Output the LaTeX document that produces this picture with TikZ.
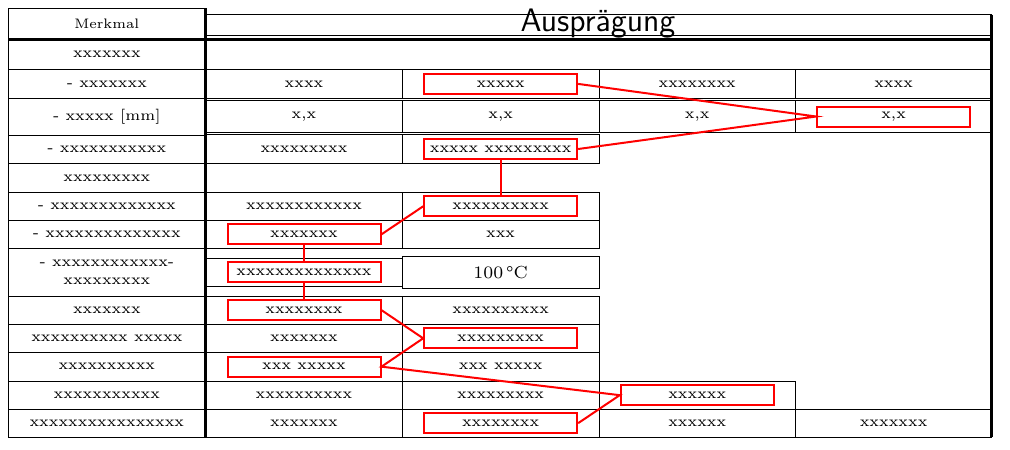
\documentclass[tikz,border=0pt]{standalone}
\tikzset{
  pick/.style={draw=red,line width=0.8pt,minimum width=61.2pt,minimum height=8pt,inner sep=0pt},
  link/.style={draw=red,line width=0.8pt},
  heavy/.style={line width=1.3pt}
}
\begin{document}
\begin{tikzpicture}[x=0.4pt,y=-0.4pt,every node/.style={font=\fontsize{6}{7}\selectfont}]
  \useasboundingbox (0,0) rectangle (1010,449);
  % kopf
  \draw (8,8) rectangle (205.7,40) node[midway,font=\fontsize{5.5}{6}\selectfont] (merkmal) {Merkmal};
  \draw (205.7,14.7) rectangle (991.7,35);
  \node[anchor=base,font=\sffamily\fontsize{13}{15}\selectfont] (auspr) at (598,31.5) {Ausprägung};
  % merkmale
  \foreach \ya/\yb/\txt [count=\i] in {40/69.5/xxxxxxx,69.5/98.3/- xxxxxxx,
      98.3/135.3/- xxxxx [mm],135.3/163.3/- xxxxxxxxxxx,163.3/192.3/xxxxxxxxx,
      192.3/220.3/- xxxxxxxxxxxxx,220.3/248.3/- xxxxxxxxxxxxxx,
      248.3/296/{- xxxxxxxxxxxx-\\xxxxxxxxx},296/324.3/xxxxxxx,
      324.3/352.3/xxxxxxxxxx xxxxx,352.3/381/xxxxxxxxxx,381/409.3/xxxxxxxxxxx,
      409.3/437/xxxxxxxxxxxxxxxx}
    \draw (8,\ya) rectangle (205.7,\yb) node[midway,align=center] (m\i) {\txt};
  % zeile 2
  \draw (205.7,69.5) rectangle (402.3,98.3) node[midway] (a2) {xxxx};
  \draw (402.3,69.5) rectangle (599,98.3) node[midway,pick] (b2) {xxxxx};
  \draw (599,69.5) rectangle (795.5,98.3) node[midway] (c2) {xxxxxxxx};
  \draw (795.5,69.5) rectangle (991.7,98.3) node[midway] (d2) {xxxx};
  % zeile 3
  \draw (205.7,100.7) rectangle (402.3,132.3) node[midway] (a3) {x,x};
  \draw (402.3,100.7) rectangle (599,132.3) node[midway] (b3) {x,x};
  \draw (599,100.7) rectangle (795.5,132.3) node[midway] (c3) {x,x};
  \draw (795.5,100.7) rectangle (991.7,132.3) node[midway,pick] (d3) {x,x};
  % zeile 4
  \draw (205.7,134.7) rectangle (402.3,163.3) node[midway] (a4) {xxxxxxxxx};
  \draw (402.3,134.7) rectangle (599,163.3) node[midway,pick] (b4) {xxxxx xxxxxxxxx};
  % zeile 6
  \draw (205.7,192.3) rectangle (402.3,220.3) node[midway] (a6) {xxxxxxxxxxxx};
  \draw (402.3,192.3) rectangle (599,220.3) node[midway,pick] (b6) {xxxxxxxxxx};
  % zeile 7
  \draw (205.7,220.3) rectangle (402.3,248.3) node[midway,pick] (a7) {xxxxxxx};
  \draw (402.3,220.3) rectangle (599,248.3) node[midway] (b7) {xxx};
  % zeile 8
  \draw (205.7,258.3) rectangle (402.3,286) node[midway,pick] (a8) {xxxxxxxxxxxxxx};
  \draw (402.3,256.7) rectangle (599,288) node[midway,font=\scriptsize] (b8) {100\,\textdegree C};
  % zeile 9
  \draw (205.7,296) rectangle (402.3,324.3) node[midway,pick] (a9) {xxxxxxxx};
  \draw (402.3,296) rectangle (599,324.3) node[midway] (b9) {xxxxxxxxxx};
  % zeile 10
  \draw (205.7,324.3) rectangle (402.3,352.3) node[midway] (a10) {xxxxxxx};
  \draw (402.3,324.3) rectangle (599,352.3) node[midway,pick] (b10) {xxxxxxxxx};
  % zeile 11
  \draw (205.7,352.3) rectangle (402.3,381) node[midway,pick] (a11) {xxx xxxxx};
  \draw (402.3,352.3) rectangle (599,381) node[midway] (b11) {xxx xxxxx};
  % zeile 12
  \draw (205.7,381) rectangle (402.3,409.3) node[midway] (a12) {xxxxxxxxxx};
  \draw (402.3,381) rectangle (599,409.3) node[midway] (b12) {xxxxxxxxx};
  \draw (599,381) rectangle (795.5,409.3) node[midway,pick] (c12) {xxxxxx};
  % zeile 13
  \draw (205.7,409.3) rectangle (402.3,437) node[midway] (a13) {xxxxxxx};
  \draw (402.3,409.3) rectangle (599,437) node[midway,pick] (b13) {xxxxxxxx};
  \draw (599,409.3) rectangle (795.5,437) node[midway] (c13) {xxxxxx};
  \draw (795.5,409.3) rectangle (991.7,437) node[midway] (d13) {xxxxxxx};
  % dicke linien
  \draw[heavy] (8,39.5) -- (991.7,39.5);
  \draw[heavy] (205.7,8) -- (205.7,437);
  \draw[heavy] (991.7,14.7) -- (991.7,437);
  % verbindungen
  \draw[link] (b2.east) -- (d3.west) -- (b4.east);
  \draw[link] (b4.south) -- (b6.north);
  \draw[link] (b6.west) -- (a7.east);
  \draw[link] (a7.south) -- (a8.north);
  \draw[link] (a8.south) -- (a9.north);
  \draw[link] (a9.east) -- (b10.west) -- (a11.east) -- (c12.west) -- (b13.east);
\end{tikzpicture}
\end{document}
